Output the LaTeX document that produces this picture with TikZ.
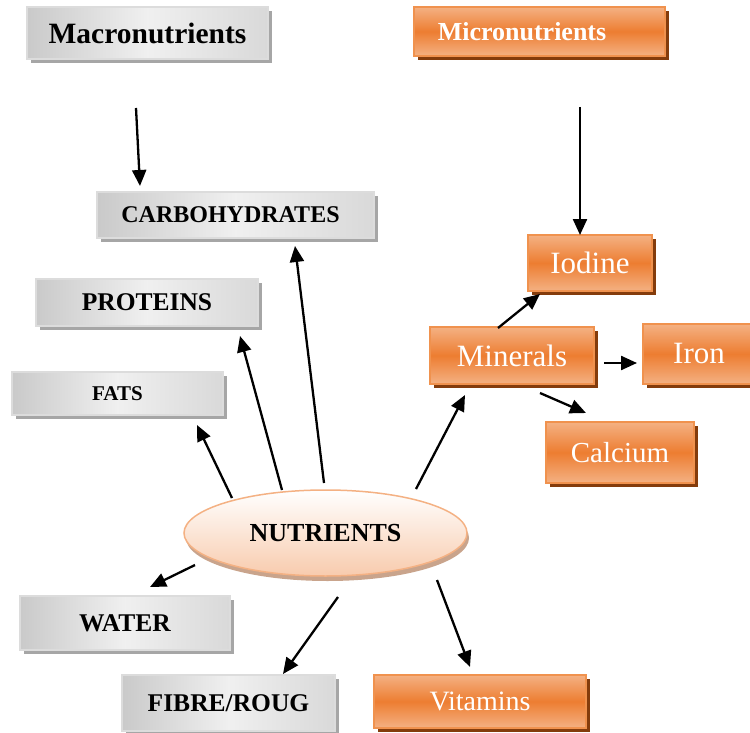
\documentclass[tikz,border=0pt]{standalone}
\usepackage{fontspec}
\setmainfont{Liberation Serif}
\usetikzlibrary{arrows.meta,shadows,shapes.geometric}

\definecolor{orgMain}{HTML}{ED7D31}
\definecolor{orgLight}{HTML}{F4B183}
\definecolor{orgEdge}{HTML}{F0924E}
\definecolor{orgShadow}{HTML}{843C0C}
\definecolor{gryEdge}{HTML}{DCDCDC}
\definecolor{gryShadow}{HTML}{A6A6A6}
\definecolor{peach}{HTML}{F8CBAD}
\definecolor{peachEdge}{HTML}{F4B183}
\definecolor{peachShadow}{HTML}{C9A48C}

\tikzset{
  graybox/.style={rectangle, draw=gryEdge, line width=1.5pt, inner sep=0pt,
    left color=black!21, right color=black!15, middle color=black!6,
    drop shadow={shadow xshift=4pt, shadow yshift=-4pt, fill=gryShadow, opacity=1},
    text=black},
  orangebox/.style={rectangle, draw=orgEdge, line width=1.5pt, inner sep=0pt,
    top color=orgLight, bottom color=orgLight, middle color=orgMain,
    drop shadow={shadow xshift=4pt, shadow yshift=-4pt, fill=orgShadow, opacity=1},
    text=white},
  hub/.style={ellipse, draw=peachEdge, line width=1.5pt, inner sep=0pt,
    top color=white, bottom color=peach,
    drop shadow={shadow xshift=2pt, shadow yshift=-5pt, fill=peachShadow, opacity=1}},
  arr/.style={line width=2.3pt, -{Triangle[length=16pt,width=14pt]}},
}
\newcommand{\fsz}[1]{\fontsize{#1}{#1}\selectfont}

\begin{document}
\begin{tikzpicture}[x=1pt,y=-1pt]
\useasboundingbox (0,0) rectangle (750,733);

% headings
\node[graybox, minimum width=241pt, minimum height=52pt, font=\fsz{29.5}\bfseries]
  (macro) at (147.5,33) {Macronutrients};
\node[orangebox, minimum width=251pt, minimum height=49pt, font=\fsz{26}\bfseries]
  (micro) at (539.5,31.5) {Micronutrients\hspace*{35pt}};

% macronutrient groups
\node[graybox, minimum width=277pt, minimum height=46pt, font=\fsz{24}\bfseries]
  (carbo) at (235.5,215) {CARBOHYDRATES\hspace*{10pt}};
\node[graybox, minimum width=222pt, minimum height=47pt, font=\fsz{25.5}\bfseries]
  (prot) at (147,302.5) {PROTEINS};
\node[graybox, minimum width=211pt, minimum height=43pt, font=\fsz{21}\bfseries]
  (fats) at (117.5,393.5) {FATS};
\node[graybox, minimum width=210pt, minimum height=54pt, font=\fsz{25.5}\bfseries]
  (water) at (125,623) {WATER};
\node[graybox, minimum width=213pt, minimum height=56pt, font=\fsz{25.5}\bfseries]
  (fibre) at (228.5,703) {FIBRE/ROUG};

% micronutrient groups
\node[orangebox, minimum width=212pt, minimum height=53pt, font=\fsz{28}]
  (vit) at (480,701.5) {Vitamins};
\node[orangebox, minimum width=164pt, minimum height=57pt, font=\fsz{31}]
  (minr) at (512,355.5) {Minerals};
\node[orangebox, minimum width=124pt, minimum height=56pt, font=\fsz{31}]
  (iod) at (590,263) {Iodine};
\node[orangebox, minimum width=112pt, minimum height=60pt, font=\fsz{31}]
  (iron) at (699,354) {Iron};
\node[orangebox, minimum width=148pt, minimum height=61pt, font=\fsz{29}]
  (calc) at (620,452.5) {Calcium};

% central node
\node[hub, minimum width=283pt, minimum height=86pt, font=\fsz{26}\bfseries]
  (nut) at (325.5,533) {NUTRIENTS};

% connectors
\draw[arr] ([shift={(-11.5,75)}]macro.center) -- ([shift={(-95.5,-29)}]carbo.center);
\draw[arr] ([shift={(40.5,75.5)}]micro.center) -- ([shift={(-10,-28)}]iod.center);

\draw[arr] ([shift={(-1.5,-50)}]nut.center) -- ([shift={(59.5,31)}]carbo.center);
\draw[arr] ([shift={(-43.5,-43)}]nut.center) -- ([shift={(93,33.5)}]prot.center);
\draw[arr] ([shift={(-93.5,-35)}]nut.center) -- ([shift={(79.5,31.5)}]fats.center);
\draw[arr] ([shift={(-130.5,32)}]nut.center) -- ([shift={(25,-36)}]water.center);
\draw[arr] ([shift={(12.5,64)}]nut.center) -- ([shift={(54.5,-29)}]fibre.center);
\draw[arr] ([shift={(111.5,47)}]nut.center) -- ([shift={(-10,-34.5)}]vit.center);
\draw[arr] ([shift={(90.5,-44)}]nut.center) -- ([shift={(-47,39.5)}]minr.center);

\draw[arr] ([shift={(-14,-27.5)}]minr.center) -- ([shift={(-50,31)}]iod.center);
\draw[arr] ([shift={(92,7.5)}]minr.center) -- ([shift={(-62,9)}]iron.center);
\draw[arr] ([shift={(28,37.5)}]minr.center) -- ([shift={(-34,-39.5)}]calc.center);
\end{tikzpicture}
\end{document}
